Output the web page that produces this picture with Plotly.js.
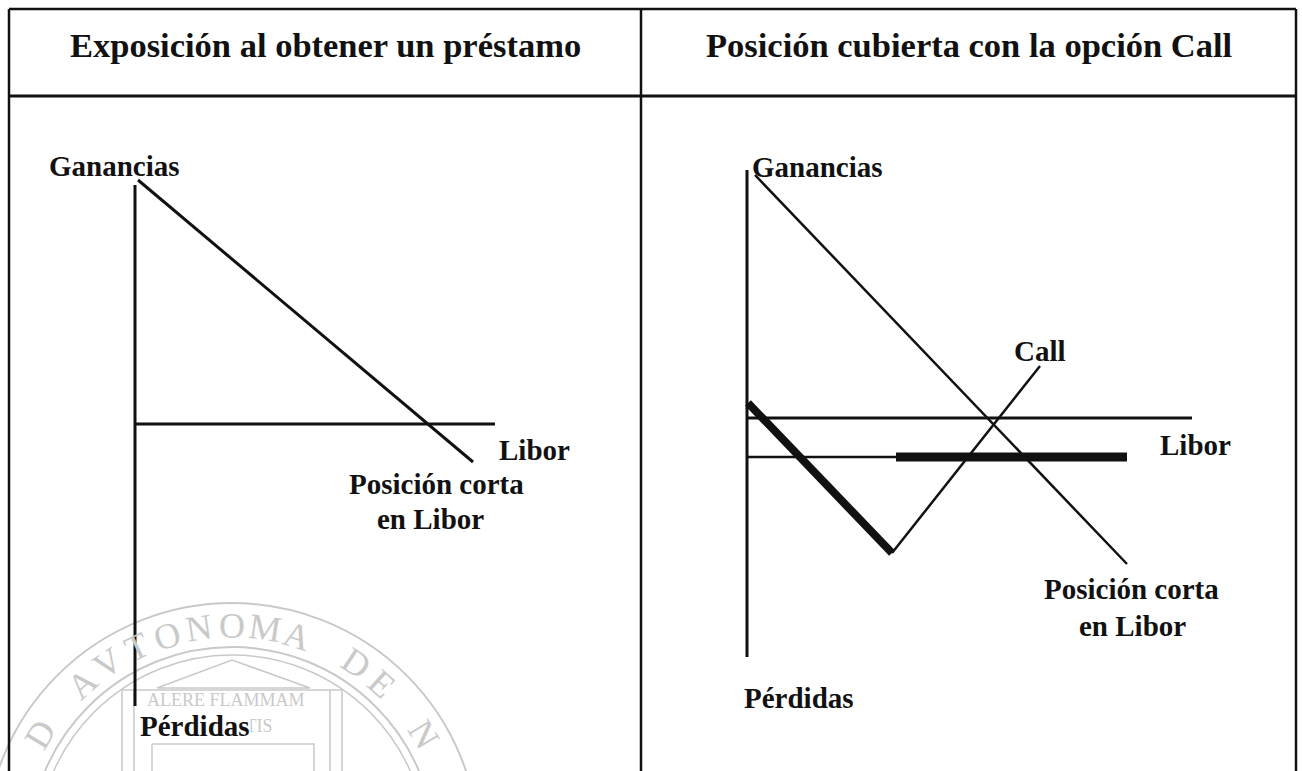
<!DOCTYPE html>
<html><head><meta charset="utf-8">
<script src="https://cdn.plot.ly/plotly-3.0.1.min.js"></script>
<style>html,body{margin:0;padding:0;background:#fff}#chart{width:1302px;height:771px}</style>
</head><body><div id="chart"></div><script>
// ---- data (diagram units: x = Libor, y = ganancia/pérdida) ----
const panelTitles = ["Exposición al obtener un préstamo", "Posición cubierta con la opción Call"];

// Panel izquierdo
const leftAxisX = [0, 0],       leftAxisY = [23.9, -28.2];
const leftLiborX = [0, 36],     leftLiborY = [0, 0];
const leftShortX = [0.3, 33.8], leftShortY = [24.4, -3.8];

// Panel derecho
const rightAxisX = [0, 0],       rightAxisY = [24.8, -23.9];
const rightLiborX = [0, 44.5],   rightLiborY = [0, 0];
const rightLowerX = [0, 14.9],   rightLowerY = [-3.9, -3.9];
const rightCapX = [14.9, 38],    rightCapY = [-3.9, -3.9];
const rightShortX = [0.8, 38.0], rightShortY = [24.3, -14.6];
const rightHedgeX = [0.1, 14.5], rightHedgeY = [1.5, -13.5];
const rightCallX = [14.5, 29.3], rightCallY = [-13.5, 5.2];

const labelGan = "Ganancias", labelPer = "Pérdidas", labelLibor = "Libor", labelCall = "Call";
const labelShort1 = "Posición corta", labelShort2 = "en Libor";

// watermark (scan artefact) texts
const sealRing = "VNIVERSIDAD AVTONOMA DE NVEVO LEON";
const sealMotto = ["ALERE FLAMMAM", "VERITATIS"];

// ---- layout helpers (pixels) ----
const W = 1302, H = 771;
const px = v => v / W, py = v => 1 - v / H;
const tblL = 9, tblR = 1296, tblT = 9, hdrB = 96, midX = 641;
const S = 10; // px per unit
const lo = {x: 135, y: 424}, ro = {x: 747, y: 418};

const ink = '#111', wm = '#c9c9c9';
function ln(x, y, w, xa, ya) {
  return {x, y, mode: 'lines', line: {color: ink, width: w}, xaxis: xa, yaxis: ya,
          hoverinfo: 'skip', showlegend: false};
}
const data = [
  ln(leftAxisX, leftAxisY, 3, 'x', 'y'),
  ln(leftLiborX, leftLiborY, 3, 'x', 'y'),
  ln(leftShortX, leftShortY, 3, 'x', 'y'),
  ln(rightAxisX, rightAxisY, 3, 'x2', 'y2'),
  ln(rightLiborX, rightLiborY, 3, 'x2', 'y2'),
  ln(rightLowerX, rightLowerY, 2.5, 'x2', 'y2'),
  ln(rightCapX, rightCapY, 9, 'x2', 'y2'),
  ln(rightShortX, rightShortY, 2.5, 'x2', 'y2'),
  ln(rightHedgeX, rightHedgeY, 8, 'x2', 'y2'),
  ln(rightCallX, rightCallY, 2.5, 'x2', 'y2')
];

function ax(dom, r) {
  return {domain: dom, range: r, visible: false, showgrid: false, zeroline: false, fixedrange: true};
}
const font = {family: '"Liberation Serif", "Times New Roman", serif', color: '#111'};
function lab(text, x, y, xa, ya, xanchor, size, bg) {
  const a = {text: '<b>' + text + '</b>', x, y, xref: xa, yref: ya, xanchor: xanchor || 'center',
          yanchor: 'middle', showarrow: false, font: Object.assign({size: size || 29}, font)};
  if (bg) { a.bgcolor = '#fff'; a.borderpad = 0; }
  return a;
}

// ---- watermark geometry (pixels) ----
const seal = {cx: 232, cy: 850, rOut: 247, rIn: 203, rText: 224};
const wmShapes = [];
function pcircle(r, w) {
  wmShapes.push({type: 'circle', xref: 'paper', yref: 'paper', layer: 'below',
    x0: px(seal.cx - r), x1: px(seal.cx + r), y0: py(seal.cy + r), y1: py(seal.cy - r),
    line: {color: wm, width: w}});
}
pcircle(seal.rOut, 2); pcircle(seal.rIn, 2); pcircle(seal.rIn - 8, 1.5);
function ppath(pts, closed) {
  let d = pts.map((p, i) => (i ? 'L' : 'M') + px(p[0]) + ',' + py(p[1])).join(' ') + (closed ? ' Z' : '');
  wmShapes.push({type: 'path', xref: 'paper', yref: 'paper', layer: 'below', path: d,
    line: {color: wm, width: 1.5}});
}
ppath([[157, 688], [232, 660], [310, 688]], true);
ppath([[122, 690], [342, 690], [342, 771]], false);
ppath([[122, 690], [122, 771]], false);
ppath([[134, 690], [134, 771]], false);
ppath([[330, 690], [330, 771]], false);
ppath([[152, 744], [314, 744], [314, 771]], false);
ppath([[152, 744], [152, 771]], false);

const wmAnn = [];
const mid = 17, step = 8.4;
for (let i = 0; i < sealRing.length; i++) {
  const ch = sealRing[i];
  if (ch === ' ') continue;
  const th = (i - mid) * step;
  if (Math.abs(th) > 62) continue;
  const t = th * Math.PI / 180;
  const x = seal.cx + seal.rText * Math.sin(t), y = seal.cy - seal.rText * Math.cos(t);
  wmAnn.push({text: ch, x: px(x), y: py(y), xref: 'paper', yref: 'paper', showarrow: false,
    textangle: th, xanchor: 'center', yanchor: 'middle',
    font: {family: '"Liberation Serif", serif', size: 36, color: wm}});
}
wmAnn.push({text: sealMotto[0], x: px(226), y: py(700), xref: 'paper', yref: 'paper', showarrow: false,
  xanchor: 'center', yanchor: 'middle', font: {family: '"Liberation Serif", serif', size: 18, color: wm}});
wmAnn.push({text: sealMotto[1], x: px(228), y: py(726), xref: 'paper', yref: 'paper', showarrow: false,
  xanchor: 'center', yanchor: 'middle', font: {family: '"Liberation Serif", serif', size: 18, color: wm}});

const bodyTop = hdrB;
const layout = {
  width: W, height: H, margin: {l: 0, r: 0, t: 0, b: 0},
  paper_bgcolor: '#fff', plot_bgcolor: 'rgba(0,0,0,0)', showlegend: false,
  xaxis: ax([px(tblL), px(midX)], [(tblL - lo.x) / S, (midX - lo.x) / S]),
  yaxis: ax([0, py(bodyTop)], [(lo.y - H) / S, (lo.y - bodyTop) / S]),
  xaxis2: ax([px(midX), px(tblR)], [(midX - ro.x) / S, (tblR - ro.x) / S]),
  yaxis2: ax([0, py(bodyTop)], [(ro.y - H) / S, (ro.y - bodyTop) / S]),
  shapes: wmShapes.concat([
    {type: 'line', xref: 'paper', yref: 'paper', x0: px(tblL), x1: px(tblR), y0: py(tblT), y1: py(tblT), line: {color: ink, width: 2.5}},
    {type: 'line', xref: 'paper', yref: 'paper', x0: px(tblL), x1: px(tblR), y0: py(hdrB), y1: py(hdrB), line: {color: ink, width: 3}},
    {type: 'line', xref: 'paper', yref: 'paper', x0: px(tblL), x1: px(tblL), y0: py(tblT), y1: 0, line: {color: ink, width: 2.5}},
    {type: 'line', xref: 'paper', yref: 'paper', x0: px(midX), x1: px(midX), y0: py(tblT), y1: 0, line: {color: ink, width: 2.5}},
    {type: 'line', xref: 'paper', yref: 'paper', x0: px(tblR), x1: px(tblR), y0: py(tblT), y1: 0, line: {color: ink, width: 2.5}}
  ]),
  annotations: wmAnn.concat([
    lab(panelTitles[0], px((tblL + midX) / 2), py(45), 'paper', 'paper', 'center', 34.5),
    lab(panelTitles[1], px((midX + tblR) / 2), py(45), 'paper', 'paper', 'center', 34.5),
    lab(labelGan, -2.05, 25.8, 'x', 'y'),
    lab(labelLibor, 36.2, -2.6, 'x', 'y', 'left'),
    lab(labelShort1, 30.1, -6.0, 'x', 'y'),
    lab(labelShort2, 29.5, -9.5, 'x', 'y'),
    lab(labelPer, 0.4, -30.2, 'x', 'y', 'left', 29, true),
    lab(labelGan, 0.3, 25.15, 'x2', 'y2', 'left'),
    lab(labelCall, 29.3, 6.7, 'x2', 'y2'),
    lab(labelLibor, 41.1, -2.7, 'x2', 'y2', 'left'),
    lab(labelShort1, 38.45, -17.1, 'x2', 'y2'),
    lab(labelShort2, 38.5, -20.8, 'x2', 'y2'),
    lab(labelPer, -0.5, -28.0, 'x2', 'y2', 'left')
  ])
};
Plotly.newPlot('chart', data, layout, {displayModeBar: false, staticPlot: true});
</script></body></html>
